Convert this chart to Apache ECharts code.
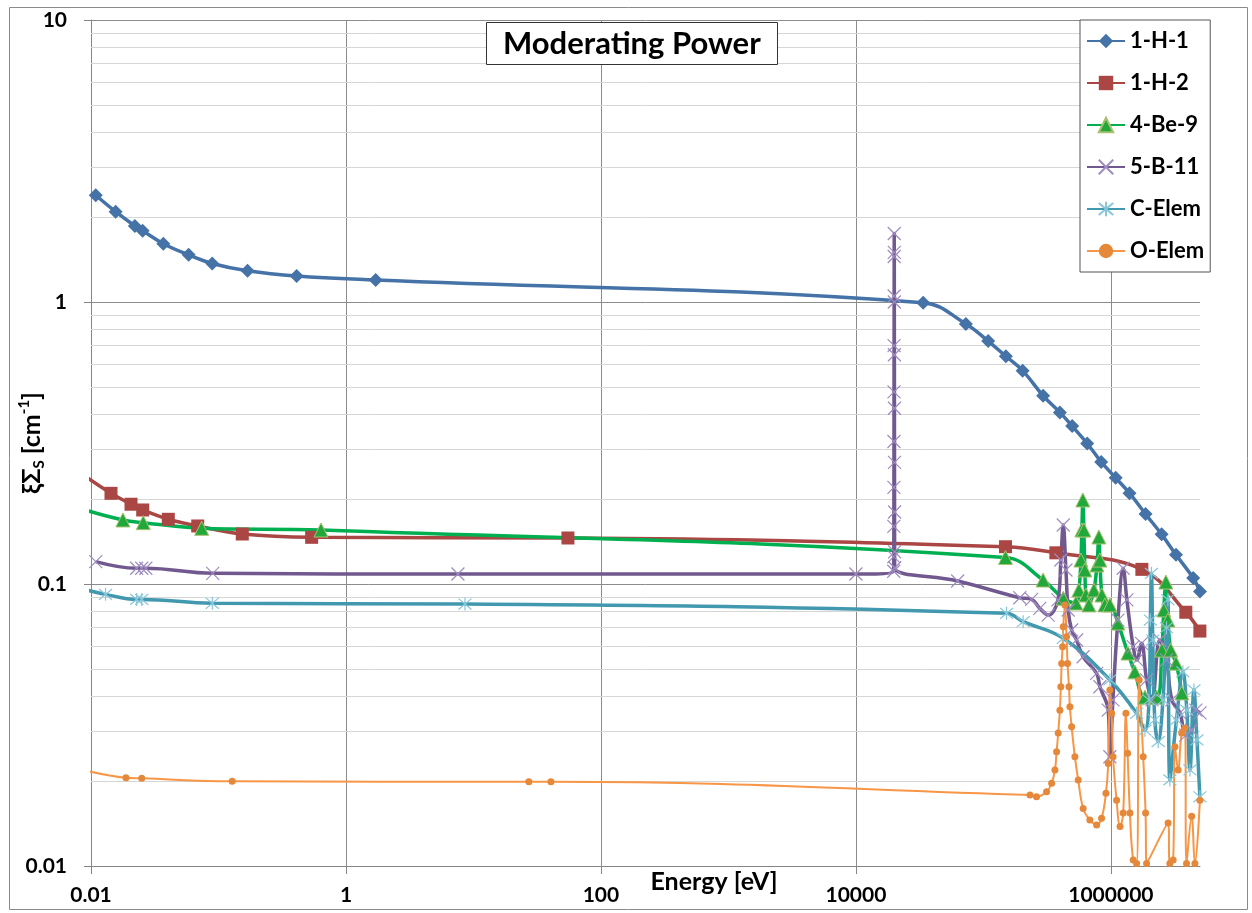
<!DOCTYPE html>
<html><head><meta charset="utf-8">
<script src="https://cdn.jsdelivr.net/npm/echarts@6/dist/echarts.min.js"></script>
<style>html,body{margin:0;padding:0;background:#fff}#c{width:1252px;height:913px}</style>
</head><body><div id="c"></div>
<script>
const titleText = 'Moderating Power';
const seriesNames = ['1-H-1', '1-H-2', '4-Be-9', '5-B-11', 'C-Elem', 'O-Elem'];
const xTickLabels = ['0.01', '1', '100', '10000', '1000000'];
const yTickLabels = ['0.01', '0.1', '1', '10'];
const minorYGrid = [0.02,0.03,0.04,0.05,0.06,0.07,0.08,0.09,0.2,0.3,0.4,0.5,0.6,0.7,0.8,0.9,2,3,4,5,6,7,8,9];

// 1-H-1
const h1E = [0.0109,0.0156,0.0221,0.0254,0.0369,0.0583,0.0893,0.169,0.41,1.71,3.37e4,7.29e4,1.09e5,1.50e5,2.03e5,2.94e5,3.98e5,4.97e5,6.52e5,8.39e5,1.09e6,1.40e6,1.87e6,2.50e6,3.24e6,4.42e6,5.0e6];
const h1V = [2.39,2.09,1.86,1.79,1.61,1.47,1.37,1.29,1.236,1.196,0.994,0.836,0.727,0.642,0.571,0.465,0.406,0.363,0.315,0.271,0.238,0.21,0.177,0.150,0.127,0.105,0.094];
// 1-H-2
const h2E = [0.009,0.01435,0.0206,0.02544,0.0404,0.0687,0.1537,0.538,55.1,1.49e5,3.70e5,1.75e6,3.87e6,4.99e6];
const h2V = [0.241,0.2097,0.1918,0.183,0.1696,0.1606,0.1504,0.1464,0.1456,0.1356,0.129,0.1127,0.0794,0.0681];
// 4-Be-9
const beE = [0.009,0.0178,0.0257,0.0738,0.637,1.49e5,2.94e5,4.23e5,5.31e5,5.61e5,5.82e5,5.92e5,6.03e5,6.14e5,6.25e5,6.37e5,6.72e5,7.36e5,7.77e5,8.05e5,8.20e5,8.50e5,8.97e5,9.82e5,1.135e6,1.36e6,1.54e6,1.85e6,2.29e6,2.51e6,2.60e6,2.70e6,2.80e6,2.95e6,3.24e6,3.60e6];
const beV = [0.183,0.1687,0.165,0.1576,0.1554,0.1241,0.1033,0.0890,0.0856,0.0952,0.1216,0.1554,0.1986,0.1554,0.1121,0.0914,0.0843,0.0952,0.1168,0.1468,0.1216,0.0914,0.0843,0.0843,0.0727,0.0569,0.0488,0.0397,0.0397,0.0583,0.0809,0.1016,0.0745,0.0583,0.0524,0.0411];
// 5-B-11
const bE = [0.0109,0.0228,0.025,0.0269,0.0901,7.55,1.0e4,1.980e4,1.982e4,1.984e4,1.986e4,1.988e4,1.990e4,1.992e4,1.994e4,1.996e4,1.998e4,2.000e4,2.002e4,2.004e4,2.006e4,2.008e4,2.010e4,2.012e4,2.015e4,6.28e4,1.93e5,2.39e5,2.77e5,3.22e5,3.84e5,4.05e5,4.23e5,4.44e5,4.62e5,4.92e5,5.38e5,6.06e5,7.73e5,8.2e5,9.53e5,9.82e5,1.037e6,1.135e6,1.249e6,1.335e6,1.496e6,1.6e6,1.74e6,1.905e6,2.10e6,2.42e6,2.73e6,3.01e6,3.48e6,3.87e6,4.30e6,4.64e6,5.0e6];
const bV = [0.120,0.1137,0.1137,0.1137,0.1091,0.1085,0.1085,0.111,0.125,0.16,0.22,0.32,0.48,0.7,1.05,1.45,1.75,1.5,1.0,0.65,0.42,0.27,0.18,0.13,0.1142,0.1025,0.0894,0.0882,0.0820,0.0776,0.0878,0.1216,0.1619,0.1121,0.0809,0.0687,0.0633,0.0552,0.0482,0.0432,0.0357,0.0244,0.0388,0.0745,0.1137,0.0878,0.0600,0.0538,0.0616,0.0457,0.0388,0.0633,0.0538,0.0388,0.0349,0.0291,0.0303,0.0357,0.0349];
// C-Elem
const cE = [0.009,0.013,0.0228,0.025,0.0894,8.58,1.52e5,2.05e5,4.23e5,9.82e5,1.591e6,1.85e6,1.99e6,2.04e6,2.08e6,2.13e6,2.21e6,2.35e6,2.56e6,2.73e6,2.80e6,2.90e6,3.27e6,3.67e6,3.94e6,4.17e6,4.48e6,4.73e6,4.99e6];
const cV = [0.0955,0.0919,0.0882,0.0882,0.0854,0.0849,0.0787,0.0735,0.0642,0.0457,0.0348,0.0303,0.0388,0.0745,0.1091,0.0633,0.0330,0.0276,0.0388,0.0700,0.088,0.0202,0.0330,0.0488,0.0357,0.0219,0.0421,0.0280,0.0176];
// O-Elem
const oE = [0.009,0.0188,0.025,0.128,27.2,40.5,2.32e5,2.61e5,3.13e5,3.43e5,3.64e5,3.75e5,3.86e5,3.98e5,4.05e5,4.11e5,4.18e5,4.23e5,4.36e5,4.49e5,4.57e5,4.69e5,4.77e5,4.92e5,5.22e5,5.54e5,6.06e5,6.84e5,7.73e5,8.45e5,9.14e5,9.53e5,9.82e5,1.013e6,1.04e6,1.108e6,1.18e6,1.249e6,1.311e6,1.352e6,1.41e6,1.496e6,1.591e6,1.667e6,1.792e6,1.871e6,1.905e6,2.81e6,2.90e6,3.08e6,3.18e6,3.37e6,3.59e6,3.80e6,3.92e6,4.30e6,4.56e6,4.99e6];
const oV = [0.0218,0.02056,0.02046,0.01997,0.0199,0.0199,0.01786,0.0176,0.01834,0.01965,0.0219,0.0254,0.0296,0.0357,0.0432,0.0523,0.0599,0.0706,0.0842,0.0650,0.0523,0.0432,0.0367,0.0312,0.0244,0.0202,0.0160,0.01456,0.01398,0.01476,0.0181,0.0231,0.0421,0.0348,0.0244,0.0171,0.0138,0.0154,0.0348,0.0251,0.0154,0.0105,0.0102,0.0457,0.0244,0.0154,0.0102,0.0142,0.0102,0.0105,0.0265,0.0219,0.0296,0.0308,0.0102,0.0150,0.0102,0.0171];

function zip(e, v) { return e.map((x, i) => [x, v[i]]); }
const FONT = 'Lato';
const xMark = 'path://M0,0L10,10M10,0L0,10';
const starMark = 'path://M0,1L10,11M10,1L0,11M5,0L5,12';

function lineSeries(name, data, lineColor, width, symbol, size, item) {
  return {
    name: name, type: 'line', data: data, smooth: 0.4, clip: true,
    symbol: symbol, symbolSize: size, showSymbol: true,
    lineStyle: { color: lineColor, width: width },
    itemStyle: item, z: 3, emphasis: { disabled: true }
  };
}

const chart = echarts.init(document.getElementById('c'), null, { renderer: 'canvas' });
chart.setOption({
  animation: false,
  backgroundColor: '#fff',
  graphic: [{
    type: 'rect', left: 7, top: 5, silent: true, z: 0,
    shape: { width: 1238, height: 902 },
    style: { fill: 'none', stroke: '#8a8a8a', lineWidth: 1 }
  }],
  title: {
    text: titleText, left: 486, top: 22, padding: [6, 17, 6, 17],
    borderColor: '#333', borderWidth: 1, backgroundColor: '#fff', z: 10,
    textStyle: { fontFamily: FONT, fontSize: 31, fontWeight: 'bold', color: '#000' }
  },
  legend: {
    data: seriesNames, orient: 'vertical', left: 1080, top: 20, z: 10,
    padding: [10, 6, 10, 6], itemWidth: 38, itemHeight: 18, itemGap: 20, itemTextGap: 3,
    borderColor: '#555', borderWidth: 1, backgroundColor: '#fff',
    textStyle: { fontFamily: FONT, fontSize: 22, fontWeight: 'bold', color: '#000' }
  },
  grid: { left: 91, right: 52, top: 20, bottom: 47, containLabel: false, outerBoundsMode: 'none' },
  xAxis: {
    type: 'log', logBase: 10, min: 0.01, max: 5e6, interval: 2,
    name: 'Energy [eV]', nameLocation: 'middle', nameGap: 3, nameMoveOverlap: false,
    nameTextStyle: { fontFamily: FONT, fontSize: 25, fontWeight: 'bold', color: '#000', padding: [0, 0, 0, 137], verticalAlign: 'top' },
    axisLine: { show: true, lineStyle: { color: '#868686', width: 1 } },
    axisTick: { show: true, length: 8, lineStyle: { color: '#868686' } },
    axisLabel: {
      margin: 19, showMaxLabel: false,
      fontFamily: FONT, fontSize: 21, fontWeight: 'bold', color: '#000',
      formatter: function (v) {
        const s = String(+Number(v).toPrecision(6));
        return xTickLabels.indexOf(s) >= 0 ? s : '';
      }
    },
    splitLine: { show: true, showMaxLine: false, lineStyle: { color: '#8c8c8c', width: 1 } },
    minorTick: { show: false }, minorSplitLine: { show: false }
  },
  yAxis: {
    type: 'log', logBase: 10, min: 0.01, max: 10, interval: 1,
    name: '{a|ξΣ}{b|S}{a| [cm}{c|-1}{a|]}', nameLocation: 'middle', nameGap: 44, nameRotate: 90, nameMoveOverlap: false,
    nameTextStyle: {
      rich: {
        a: { fontFamily: FONT, fontSize: 25, fontWeight: 'bold', color: '#000', lineHeight: 30 },
        b: { fontFamily: FONT, fontSize: 15, fontWeight: 'bold', color: '#000', verticalAlign: 'bottom', lineHeight: 30 },
        c: { fontFamily: FONT, fontSize: 15, fontWeight: 'bold', color: '#000', verticalAlign: 'top', lineHeight: 30 }
      }
    },
    axisLine: { show: true, lineStyle: { color: '#868686', width: 1 } },
    axisTick: { show: true, length: 7, lineStyle: { color: '#868686' } },
    axisLabel: {
      margin: 24, fontFamily: FONT, fontSize: 21, fontWeight: 'bold', color: '#000',
      formatter: function (v) {
        const s = String(+Number(v).toPrecision(6));
        return yTickLabels.indexOf(s) >= 0 ? s : '';
      }
    },
    splitLine: { show: true, lineStyle: { color: '#8c8c8c', width: 1 } }
  },
  series: [
    {
      name: '_minor', type: 'line', data: [], z: 1, silent: true,
      markLine: {
        silent: true, symbol: 'none', animation: false, z: 1,
        label: { show: false },
        lineStyle: { color: '#d6d6d6', width: 1, type: 'solid' },
        emphasis: { disabled: true },
        data: minorYGrid.map(v => ({ yAxis: v }))
      }
    },
    lineSeries(seriesNames[0], zip(h1E, h1V), '#4572A7', 3.5, 'diamond', 14, { color: '#4572A7' }),
    lineSeries(seriesNames[1], zip(h2E, h2V), '#AA4643', 3.5, 'rect', 13, { color: '#AA4643' }),
    lineSeries(seriesNames[2], zip(beE, beV), '#00B050', 3.5, 'triangle', 14, { color: '#22A83A', borderColor: '#A8C070', borderWidth: 1 }),
    lineSeries(seriesNames[3], zip(bE, bV), '#71588F', 3.5, xMark, 13, { color: '#9E8CC0', borderColor: '#9E8CC0', borderWidth: 1.2 }),
    lineSeries(seriesNames[4], zip(cE, cV), '#4198AF', 3.5, starMark, 13, { color: '#86C7DA', borderColor: '#86C7DA', borderWidth: 1.2 }),
    lineSeries(seriesNames[5], zip(oE, oV), '#F79646', 2, 'circle', 7, { color: '#E5883A' })
  ]
});
</script>
</body></html>
